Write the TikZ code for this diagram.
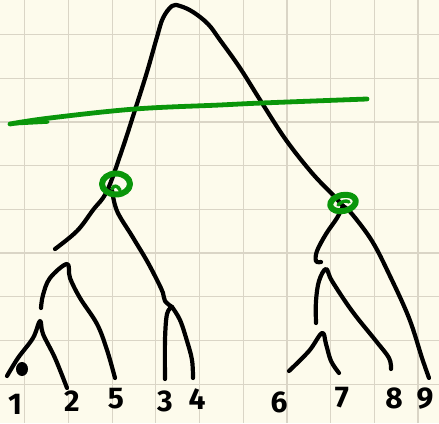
\documentclass[tikz,border=0pt]{standalone}
\usepackage{fontspec}
\setmainfont{Fira Sans}
\usepackage{tikz}
\definecolor{paper}{RGB}{253,251,236}
\definecolor{gridc}{RGB}{218,213,198}
\definecolor{marker}{RGB}{10,150,10}
\begin{document}
\begin{tikzpicture}[x=1pt,y=-1pt,
  ink/.style={draw=black,line width=4.2pt,line cap=round,line join=round},
  pen/.style={draw=marker,line width=4.8pt,line cap=round,line join=round},
  lbl/.style={font=\fontsize{30}{30}\selectfont\bfseries,inner sep=0pt}]
  \fill[paper] (0,0) rectangle (439,423);
  \useasboundingbox (0,0) rectangle (439,423);
  % grid paper
  \foreach \i in {0,...,9}{\draw[gridc,line width=1.2pt] (24.7+43.7*\i,0) -- (24.7+43.7*\i,423);}
  \foreach \i in {0,...,8}{\draw[gridc,line width=1.2pt] (0,34.5+43.7*\i) -- (439,34.5+43.7*\i);}
  % merge points
  \coordinate (top) at (172,6);
  \coordinate (nL) at (107,191);
  \coordinate (nR) at (343,206);
  \coordinate (a) at (55,249);
  \coordinate (b) at (172,307);
  \coordinate (c) at (67,264);
  \coordinate (d) at (40,321);
  \coordinate (e) at (326,269);
  \coordinate (f) at (322,333);
  % leaf labels
  \foreach \n/\x/\y in {1/15/404,2/72/401,5/116/399,3/165/401,4/197/399,6/279/402,7/342/398,8/394/398,9/425/399}
    \node[lbl] (t\n) at (\x,\y) {\n};
  % dendrogram
  \draw[ink] plot[smooth,tension=0.6] coordinates {(a) (77,231) (93,210) (nL) (122,150) (135,110) (147,72) (157,37) (163,18) (top) (180,6) (193,12) (208,24) (220,40) (240,68) (262,103) (286,140) (312,173) (334,196) (nR)};
  \draw[ink] plot[smooth,tension=0.6] coordinates {(112,190) (117,211) (132,236) (147,261) (158,282) (163,293) (165,301) (b)};
  \draw[ink] plot[smooth,tension=0.6] coordinates {(b) (167,314) (165,340) (165,379)};
  \draw[ink] plot[smooth,tension=0.6] coordinates {(b) (180,320) (187,341) (192,360) (193,378)};
  \draw[ink] plot[smooth,tension=0.6] coordinates {(41,308) (43,295) (50,278) (c) (70,278) (80,298) (97,324) (107,350) (115,378)};
  \draw[ink] plot[smooth,tension=0.6] coordinates {(7,376) (18,358) (33,338) (d) (43,334) (55,358) (67,388)};
  \fill (22,369) ellipse [x radius=6,y radius=7];
  \draw[ink] plot[smooth,tension=0.6] coordinates {(321,262) (316,261) (317,251) (326,234) (337,218) (nR)};
  \draw[ink] plot[smooth,tension=0.6] coordinates {(nR) (352,214) (372,241) (389,274) (409,318) (422,358) (429,378)};
  \draw[ink] plot[smooth,tension=0.6] coordinates {(316,323) (316,301) (319,281) (e) (332,281) (352,311) (376,341) (389,358) (391,369)};
  \draw[ink] plot[smooth,tension=0.6] coordinates {(289,371) (309,351) (f) (326,344) (331,361) (339,373)};
  % cut line and circled clusters
  \coordinate (cutL) at (10,124);
  \coordinate (cutR) at (367,99);
  \draw[pen] plot[smooth,tension=0.6] coordinates {(cutL) (50,118) (135,109) (220,105) (262,103) (cutR)};
  \draw[pen,line width=3.4pt] (cutL) -- (48,122);
  \draw[pen,line width=6pt] (116,184) ellipse [x radius=14,y radius=10.5];
  \draw[pen,line width=3.4pt] (112,189) .. controls (114,184) and (118,186) .. (120,190);
  \draw[pen,line width=6pt,rotate around={12:(343,203)}] (343,203) ellipse [x radius=13,y radius=8];
  \draw[pen,line width=3.4pt] (338,205) .. controls (342,201) and (346,200) .. (349,202);
\end{tikzpicture}
\end{document}
